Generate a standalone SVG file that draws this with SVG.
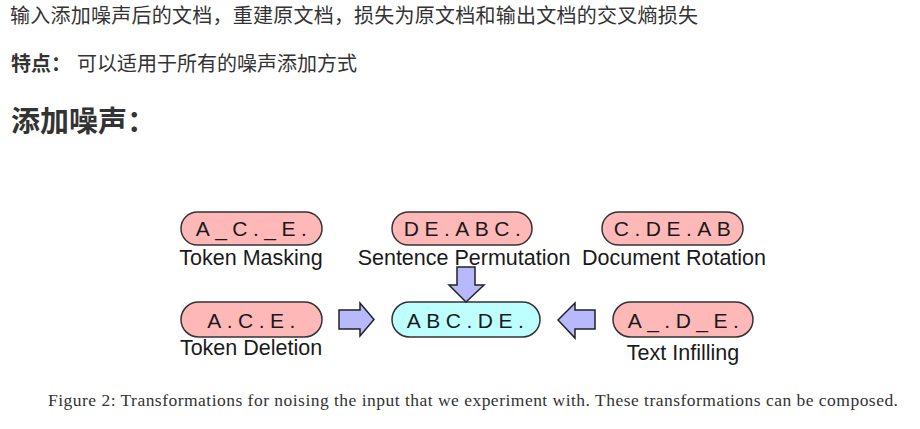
<svg xmlns="http://www.w3.org/2000/svg" width="920" height="429" viewBox="0 0 920 429">
<style>
.cn{font-family:"Noto Sans CJK SC","Noto Sans",sans-serif;fill:#333;}
.pill{stroke:#333;stroke-width:1.5;}
.red{fill:#ffb8b8;}
.cyan{fill:#bdffff;}
.nt{font-family:"Liberation Sans",Arial,sans-serif;font-size:21px;fill:#1a1a1a;text-anchor:middle;letter-spacing:5.5px;}
.lb{font-family:"Liberation Sans",Arial,sans-serif;font-size:21.5px;fill:#1a1a1a;text-anchor:middle;}
.arr{fill:#b8b8ff;stroke:#222;stroke-width:1.5;stroke-linejoin:miter;}
.cap{font-family:"Liberation Serif","Times New Roman",serif;font-size:17.5px;fill:#333;}
</style>
<rect width="920" height="429" fill="#fff"/>
<text class="cn" x="10" y="23" font-size="20" textLength="688">输入添加噪声后的文档，重建原文档，损失为原文档和输出文档的交叉熵损失</text>
<text class="cn" x="11" y="71" font-size="20" font-weight="bold">特点：</text>
<text class="cn" x="77" y="71" font-size="20">可以适用于所有的噪声添加方式</text>
<text class="cn" x="11" y="132" font-size="29" font-weight="bold">添加噪声：</text>

<g id="token-masking">
<rect class="pill red" x="181" y="212" width="141" height="33" rx="16.5"/>
<text class="nt" x="254" y="236">A_C._E.</text>
<text class="lb" x="251" y="265">Token Masking</text>
</g>
<g id="sentence-permutation">
<rect class="pill red" x="392" y="212" width="140" height="33" rx="16.5"/>
<text class="nt" x="465" y="236">DE.ABC.</text>
<text class="lb" x="464" y="265">Sentence Permutation</text>
</g>
<g id="document-rotation">
<rect class="pill red" x="602" y="212" width="141" height="33" rx="16.5"/>
<text class="nt" x="675" y="236">C.DE.AB</text>
<text class="lb" x="674" y="265">Document Rotation</text>
</g>
<g id="token-deletion">
<rect class="pill red" x="181" y="302" width="141" height="35" rx="17.5"/>
<text class="nt" x="254" y="328">A.C.E.</text>
<text class="lb" x="251" y="355">Token Deletion</text>
</g>
<g id="original">
<rect class="pill cyan" x="392" y="302" width="148" height="35" rx="17.5"/>
<text class="nt" x="468" y="328">ABC.DE.</text>
</g>
<g id="text-infilling">
<rect class="pill red" x="613" y="302" width="140" height="35" rx="17.5"/>
<text class="nt" x="686" y="328">A_.D_E.</text>
<text class="lb" x="683" y="360">Text Infilling</text>
</g>

<g id="connectors">
<polygon class="arr" points="339,310 360,310 360,303 374,319.5 360,336 360,329 339,329"/>
<polygon class="arr" points="457,267 475,267 475,285 484,285 466,302 449,285 457,285"/>
<polygon class="arr" points="595,310 575,310 575,303 558,320 575,338 575,329 595,329"/>
</g>

<text class="cap" x="48" y="406" textLength="850">Figure 2: Transformations for noising the input that we experiment with. These transformations can be composed.</text>
</svg>
